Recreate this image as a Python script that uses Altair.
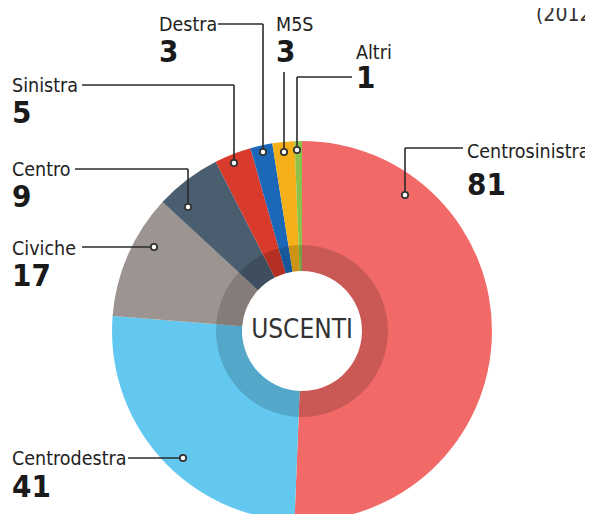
import altair as alt
import pandas as pd

# ---- data ----
parties = ["Centrosinistra", "Centrodestra", "Civiche", "Centro", "Sinistra", "Destra", "M5S", "Altri"]
seats = [81, 41, 17, 9, 5, 3, 3, 1]
colors = ["#F16A67", "#63C8F0", "#9C9490", "#4B5E70", "#D83A2C", "#1C68B8", "#F5B019", "#8BC34A"]
center_label = "USCENTI"
corner_label = "(2012"

# ---- annotation layout (page pixel coordinates) ----
label_pos = {  # left x, label baseline, number baseline
    "Centrosinistra": (467, 158, 195),
    "Centrodestra": (12, 465, 497),
    "Civiche": (12, 255, 286),
    "Centro": (12, 176, 207),
    "Sinistra": (12, 92, 123),
    "Destra": (159, 31, 62),
    "M5S": (276, 31, 62),
    "Altri": (356, 59, 88),
}
dot_pos = {
    "Centrosinistra": (405, 195),
    "Centrodestra": (183, 458),
    "Civiche": (154, 247),
    "Centro": (188, 207),
    "Sinistra": (234, 163),
    "Destra": (263, 152),
    "M5S": (284, 152),
    "Altri": (297, 150),
}
leader_segments = [
    (218, 24, 263, 24), (263, 24, 263, 152),
    (284, 72, 284, 152),
    (352, 77, 297, 77), (297, 77, 297, 150),
    (82, 85, 234, 85), (234, 85, 234, 163),
    (75, 169, 188, 169), (188, 169, 188, 207),
    (82, 247, 154, 247),
    (128, 458, 183, 458),
    (463, 148, 405, 148), (405, 148, 405, 195),
]
CX, CY = 302, 331
R_OUT, R_IN, R_SHADE = 190, 60, 86
FONT = "Liberation Sans Narrow, DejaVu Sans Condensed, sans-serif"

pie = pd.DataFrame({"party": parties, "seats": seats, "idx": list(range(len(parties)))})
labels = pd.DataFrame({
    "party": parties,
    "num": [str(s) for s in seats],
    "x": [label_pos[p][0] for p in parties],
    "y": [label_pos[p][1] for p in parties],
    "yn": [label_pos[p][2] for p in parties],
    "dx": [dot_pos[p][0] for p in parties],
    "dy": [dot_pos[p][1] for p in parties],
})
segs = pd.DataFrame(leader_segments, columns=["x", "y", "x2", "y2"])

xs = alt.Scale(domain=[8, 585], nice=False, zero=False)
ys = alt.Scale(domain=[8, 514], nice=False, zero=False, reverse=True)

base_pie = alt.Chart(pie).encode(
    theta=alt.Theta("seats:Q", stack=True),
    order=alt.Order("idx:Q"),
    x=alt.value(CX - 8),
    y=alt.value(CY - 8),
)
slices = base_pie.mark_arc(outerRadius=R_OUT, innerRadius=R_IN).encode(
    color=alt.Color("party:N", scale=alt.Scale(domain=parties, range=colors), legend=None)
)
shade = base_pie.mark_arc(outerRadius=R_SHADE, innerRadius=R_IN, color="#000000", opacity=0.16)

center_txt = alt.Chart(pd.DataFrame({"t": [center_label]})).mark_text(
    font=FONT, fontSize=26, color="#333333", align="center", baseline="middle"
).encode(text="t:N", x=alt.value(CX - 8), y=alt.value(CY - 8 - 1))

corner_txt = alt.Chart(pd.DataFrame({"t": [corner_label]})).mark_text(
    font=FONT, fontSize=21, color="#333333", align="left", baseline="alphabetic"
).encode(text="t:N", x=alt.value(536 - 8), y=alt.value(21 - 8))

rules = alt.Chart(segs).mark_rule(color="#2a2a2a", strokeWidth=1.6).encode(
    x=alt.X("x:Q", scale=xs, axis=None), y=alt.Y("y:Q", scale=ys, axis=None),
    x2="x2:Q", y2="y2:Q",
)
dots = alt.Chart(labels).mark_point(
    filled=True, fill="#ffffff", stroke="#333333", strokeWidth=1.8, size=40, opacity=1, shape="circle"
).encode(x=alt.X("dx:Q", scale=xs, axis=None), y=alt.Y("dy:Q", scale=ys, axis=None))

name_txt = alt.Chart(labels).mark_text(
    font=FONT, fontSize=19.5, color="#222222", align="left", baseline="alphabetic"
).encode(x=alt.X("x:Q", scale=xs, axis=None), y=alt.Y("y:Q", scale=ys, axis=None), text="party:N")

num_txt = alt.Chart(labels).mark_text(
    font=FONT, fontSize=31, fontWeight="bold", color="#1a1a1a", align="left", baseline="alphabetic"
).encode(x=alt.X("x:Q", scale=xs, axis=None), y=alt.Y("yn:Q", scale=ys, axis=None), text="num:N")

chart = alt.layer(
    slices, shade, center_txt, corner_txt, rules, dots, name_txt, num_txt
).properties(
    width=577, height=506, autosize="none", padding=0, background="#ffffff"
).configure_view(stroke=None)

chart.save("out.html", embed_options={"renderer": "svg", "actions": False})
